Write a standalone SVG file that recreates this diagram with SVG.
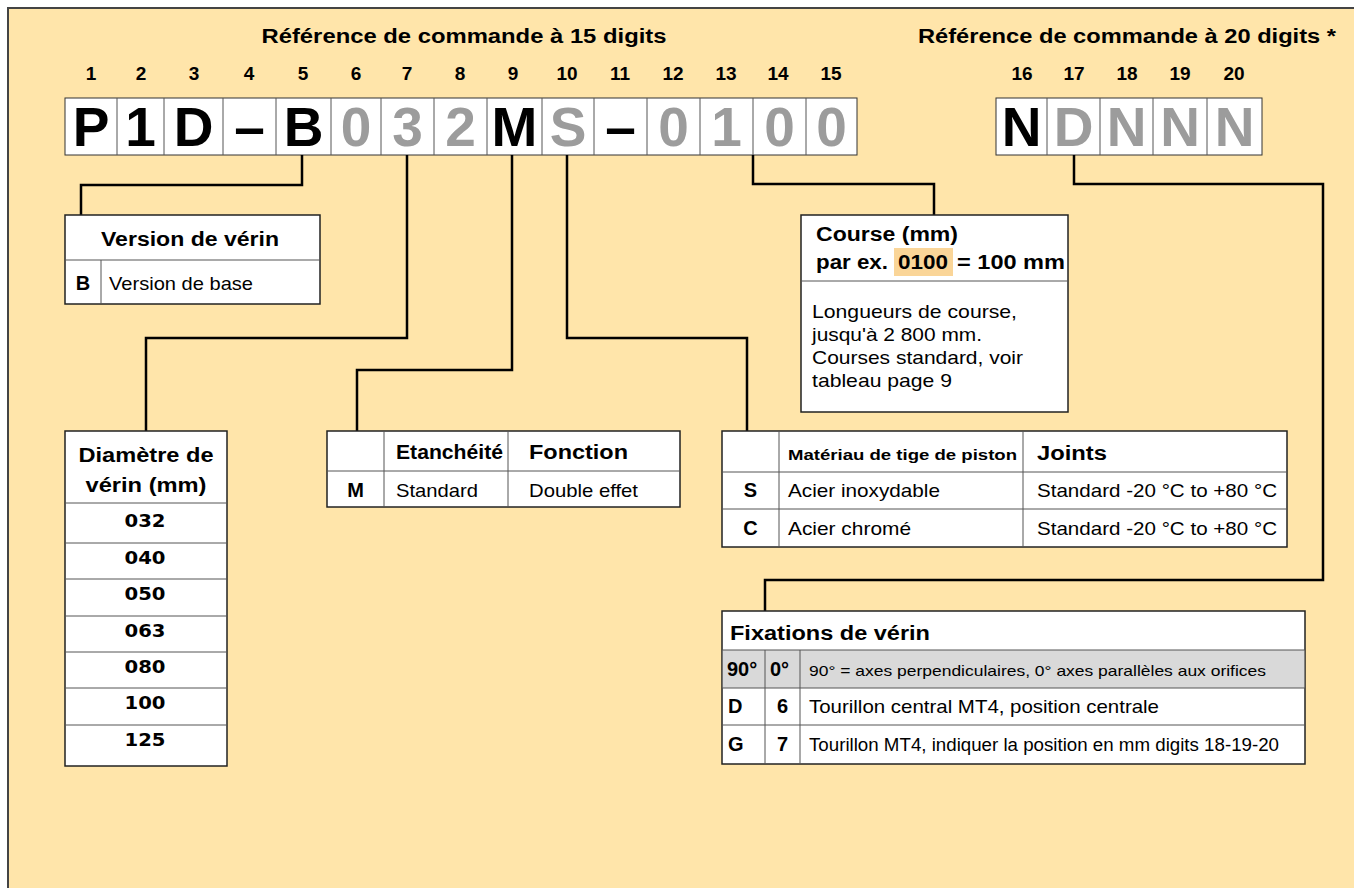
<svg xmlns="http://www.w3.org/2000/svg" width="1354" height="888" viewBox="0 0 1354 888">
<style>
text{font-family:"Liberation Sans",Arial,Helvetica,sans-serif;fill:#000}
.b{font-weight:bold}
.big{font-size:55px;font-weight:bold;text-anchor:middle}
.g{fill:#9c9c9c}
.num{font-size:19px;font-weight:bold;text-anchor:middle}
.h{font-size:20px;font-weight:bold}
.r{font-size:19px}
.m{text-anchor:middle}
.cell{fill:#fff;stroke:#333;stroke-width:1}
.tbl{fill:#fff;stroke:#222;stroke-width:1.5}
.ln{stroke:#555;stroke-width:1;fill:none}
.conn{fill:none;stroke:#000;stroke-width:2.5}
.dia{font-family:"DejaVu Sans",Arial,sans-serif;font-size:17px;font-weight:bold;text-anchor:middle}
</style>
<rect x="0" y="0" width="1354" height="888" fill="#fff"/>
<rect x="8" y="8" width="1346" height="880" fill="#FFE5AA"/>
<path d="M8,888 V8 H1354" fill="none" stroke="#444" stroke-width="2"/>

<g id="title15">
<text x="464" y="43" class="h m" textLength="405" lengthAdjust="spacingAndGlyphs">Référence de commande à 15 digits</text>
</g>
<g id="title20">
<text x="918" y="43" class="h" textLength="418" lengthAdjust="spacingAndGlyphs">Référence de commande à 20 digits *</text>
</g>

<g id="positions">
<text x="91" y="80" class="num">1</text>
<text x="141" y="80" class="num">2</text>
<text x="194" y="80" class="num">3</text>
<text x="249" y="80" class="num">4</text>
<text x="303" y="80" class="num">5</text>
<text x="356" y="80" class="num">6</text>
<text x="407" y="80" class="num">7</text>
<text x="460" y="80" class="num">8</text>
<text x="513" y="80" class="num">9</text>
<text x="567" y="80" class="num">10</text>
<text x="620" y="80" class="num">11</text>
<text x="673" y="80" class="num">12</text>
<text x="726" y="80" class="num">13</text>
<text x="778" y="80" class="num">14</text>
<text x="831" y="80" class="num">15</text>
<text x="1022" y="80" class="num">16</text>
<text x="1074" y="80" class="num">17</text>
<text x="1127" y="80" class="num">18</text>
<text x="1180" y="80" class="num">19</text>
<text x="1234" y="80" class="num">20</text>
</g>

<g id="code15">
<rect x="65" y="98" width="792" height="57" class="cell"/>
<path class="ln" d="M117,98V155M164,98V155M223,98V155M276,98V155M331,98V155M381,98V155M434,98V155M487,98V155M542,98V155M594,98V155M647,98V155M700,98V155M753,98V155M806,98V155"/>
<text x="91" y="146" class="big">P</text>
<text x="140.5" y="146" class="big">1</text>
<text x="193.5" y="146" class="big">D</text>
<text x="249.5" y="146" class="big">–</text>
<text x="303.5" y="146" class="big">B</text>
<text x="356" y="146" class="big g">0</text>
<text x="407.5" y="146" class="big g">3</text>
<text x="460.5" y="146" class="big g">2</text>
<text x="514.5" y="146" class="big">M</text>
<text x="568" y="146" class="big g">S</text>
<text x="620.5" y="146" class="big">–</text>
<text x="673.5" y="146" class="big g">0</text>
<text x="726.5" y="146" class="big g">1</text>
<text x="779.5" y="146" class="big g">0</text>
<text x="831.5" y="146" class="big g">0</text>
</g>

<g id="code20">
<rect x="996" y="98" width="266" height="57" class="cell"/>
<path class="ln" d="M1047,98V155M1100,98V155M1153,98V155M1207,98V155"/>
<text x="1021.5" y="146" class="big">N</text>
<text x="1073.5" y="146" class="big g">D</text>
<text x="1126.5" y="146" class="big g">N</text>
<text x="1180" y="146" class="big g">N</text>
<text x="1234.5" y="146" class="big g">N</text>
</g>

<g id="connectors">
<path class="conn" d="M302,155V185H81V215"/>
<path class="conn" d="M753,155V184H934V215"/>
<path class="conn" d="M1074,155V184H1323V580H765V611"/>
<path class="conn" d="M407,155V338H146V431"/>
<path class="conn" d="M512,155V370H357V431"/>
<path class="conn" d="M567,155V338H747V431"/>
</g>

<g id="version">
<rect x="65" y="215" width="255" height="89" class="tbl"/>
<path class="ln" d="M65,260H320M101,260V304"/>
<text x="190" y="246" class="h m" textLength="178" lengthAdjust="spacingAndGlyphs">Version de vérin</text>
<text x="83" y="290" class="h m">B</text>
<text x="109" y="290" class="r" textLength="144" lengthAdjust="spacingAndGlyphs">Version de base</text>
</g>

<g id="course">
<rect x="801" y="215" width="267" height="197" class="tbl"/>
<path class="ln" d="M801,281H1068"/>
<rect x="894" y="248" width="59" height="28" fill="#FAD598"/>
<text x="816" y="241" class="h" textLength="142" lengthAdjust="spacingAndGlyphs">Course (mm)</text>
<text x="816" y="269" class="h" textLength="72" lengthAdjust="spacingAndGlyphs">par ex.</text>
<text x="898" y="269" class="h" textLength="50" lengthAdjust="spacingAndGlyphs">0100</text>
<text x="957" y="269" class="h" textLength="108" lengthAdjust="spacingAndGlyphs">= 100 mm</text>
<text x="812" y="318" class="r" textLength="205" lengthAdjust="spacingAndGlyphs">Longueurs de course,</text>
<text x="812" y="341" class="r" textLength="170" lengthAdjust="spacingAndGlyphs">jusqu'à 2 800 mm.</text>
<text x="812" y="364" class="r" textLength="211" lengthAdjust="spacingAndGlyphs">Courses standard, voir</text>
<text x="812" y="387" class="r" textLength="140" lengthAdjust="spacingAndGlyphs">tableau page 9</text>
</g>

<g id="diametre">
<rect x="65" y="431" width="162" height="335" class="tbl"/>
<path class="ln" d="M65,503H227M65,543H227M65,579H227M65,616H227M65,652H227M65,688H227M65,725H227"/>
<text x="146" y="462" class="h m" textLength="135" lengthAdjust="spacingAndGlyphs">Diamètre de</text>
<text x="146" y="492" class="h m" textLength="121" lengthAdjust="spacingAndGlyphs">vérin (mm)</text>
<text x="145" y="527" class="dia" textLength="41" lengthAdjust="spacingAndGlyphs">032</text>
<text x="145" y="564" class="dia" textLength="41" lengthAdjust="spacingAndGlyphs">040</text>
<text x="145" y="600" class="dia" textLength="41" lengthAdjust="spacingAndGlyphs">050</text>
<text x="145" y="637" class="dia" textLength="41" lengthAdjust="spacingAndGlyphs">063</text>
<text x="145" y="673" class="dia" textLength="41" lengthAdjust="spacingAndGlyphs">080</text>
<text x="145" y="709" class="dia" textLength="41" lengthAdjust="spacingAndGlyphs">100</text>
<text x="145" y="746" class="dia" textLength="41" lengthAdjust="spacingAndGlyphs">125</text>
</g>

<g id="etancheite">
<rect x="327" y="431" width="353" height="76" class="tbl"/>
<path class="ln" d="M327,471H680M384,431V507M508,431V507"/>
<text x="396" y="459" class="h" textLength="107" lengthAdjust="spacingAndGlyphs">Etanchéité</text>
<text x="529" y="459" class="h" font-size="21" textLength="99" lengthAdjust="spacingAndGlyphs">Fonction</text>
<text x="355.5" y="497" class="h m">M</text>
<text x="396" y="497" class="r" textLength="82" lengthAdjust="spacingAndGlyphs">Standard</text>
<text x="529" y="497" class="r" textLength="109" lengthAdjust="spacingAndGlyphs">Double effet</text>
</g>

<g id="tige">
<rect x="722" y="431" width="565" height="116" class="tbl"/>
<path class="ln" d="M722,472H1287M722,509H1287M779,431V547M1023,431V547"/>
<text x="788" y="460" class="b" font-size="15.5" textLength="229" lengthAdjust="spacingAndGlyphs">Matériau de tige de piston</text>
<text x="1037" y="460" class="h" font-size="21" textLength="70" lengthAdjust="spacingAndGlyphs">Joints</text>
<text x="750.5" y="497" class="h m">S</text>
<text x="788" y="497" class="r" textLength="152" lengthAdjust="spacingAndGlyphs">Acier inoxydable</text>
<text x="1037" y="497" class="r" textLength="240" lengthAdjust="spacingAndGlyphs">Standard -20 °C to +80 °C</text>
<text x="750.5" y="535" class="h m">C</text>
<text x="788" y="535" class="r" textLength="123" lengthAdjust="spacingAndGlyphs">Acier chromé</text>
<text x="1037" y="535" class="r" textLength="240" lengthAdjust="spacingAndGlyphs">Standard -20 °C to +80 °C</text>
</g>

<g id="fixations">
<rect x="722" y="611" width="583" height="153" class="tbl"/>
<rect x="722.8" y="650" width="581.5" height="38" fill="#D9D9D9"/>
<path class="ln" d="M722,650H1305M722,688H1305M722,725H1305M765,650V764M800,650V764"/>
<text x="730" y="640" class="h" textLength="200" lengthAdjust="spacingAndGlyphs">Fixations de vérin</text>
<text x="727" y="676" class="h" font-size="19">90°</text>
<text x="770" y="676" class="h" font-size="19">0°</text>
<text x="809" y="676" font-size="15" textLength="457" lengthAdjust="spacingAndGlyphs">90° = axes perpendiculaires, 0° axes parallèles aux orifices</text>
<text x="728" y="713" class="h" font-size="19">D</text>
<text x="782.5" y="713" class="h m" font-size="19">6</text>
<text x="809" y="713" font-size="18.5" textLength="350" lengthAdjust="spacingAndGlyphs">Tourillon central MT4, position centrale</text>
<text x="728" y="751" class="h" font-size="19">G</text>
<text x="782.5" y="751" class="h m" font-size="19">7</text>
<text x="809" y="751" font-size="17.5" textLength="470" lengthAdjust="spacingAndGlyphs">Tourillon MT4, indiquer la position en mm digits 18-19-20</text>
</g>
</svg>
